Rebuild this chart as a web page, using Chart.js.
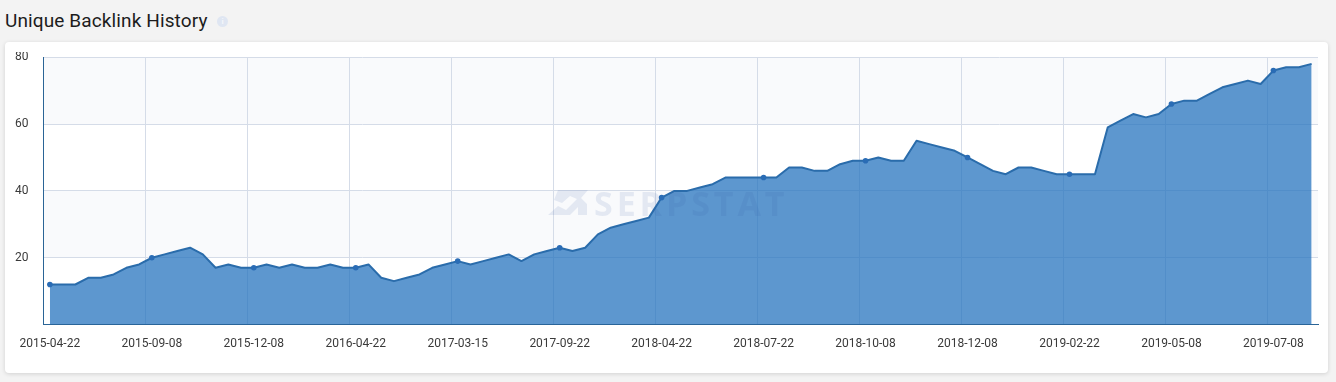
<!DOCTYPE html>
<html><head><meta charset="utf-8">
<style>
html,body{margin:0;padding:0;width:1336px;height:382px;background:#f3f3f3;overflow:hidden;font-family:Roboto,sans-serif}
#title{position:absolute;left:5px;top:10px;font-size:19px;letter-spacing:.12px;line-height:22px;color:#1c1c1c}
#info{position:absolute;left:217px;top:16px;width:11px;height:11px;border-radius:50%;background:#dfe6f2;color:#f4f6fa;font:bold 8px/11px Roboto;text-align:center}
#card{position:absolute;left:5px;top:42px;width:1323px;height:331px;background:#fff;border-radius:4px;box-shadow:0 1px 4px rgba(0,0,0,.14)}
#clip{position:absolute;left:0;top:52px;width:1336px;height:321px;overflow:hidden}
#wrap{position:absolute;left:0;top:-17px;width:1330px;height:329px}
#mark{position:absolute;left:548px;top:185px;width:245px;height:36px;pointer-events:none}
#mark span{position:absolute;left:46px;top:0;font:bold 34px/36px "Open Sans",sans-serif;letter-spacing:3.9px;color:rgba(55,95,165,.11)}
#mark svg{position:absolute;left:0;top:4px}
</style></head><body>
<div id="title">Unique Backlink History</div><div id="info">i</div>
<div id="card"></div>
<div id="clip"><div id="wrap"><canvas id="c"></canvas></div></div>
<div id="mark"><svg width="42" height="28" viewBox="0 0 42 28"><path d="M10 1H40L33 9 39 15V26H30V18L22 26H0L10 17 18 21 29 10 22 7 14 14 6 11Z" fill="rgba(55,95,165,.11)"/></svg><span>SERPSTAT</span></div>
<script src="https://cdn.jsdelivr.net/npm/chart.js@4"></script>
<script>
const tickDates=['2015-04-22','2015-09-08','2015-12-08','2016-04-22','2017-03-15','2017-09-22','2018-04-22','2018-07-22','2018-10-08','2018-12-08','2019-02-22','2019-05-08','2019-07-08'];
const backlinks=[12,12,12,14,14,15,17,18,20,21,22,23,21,17,18,17,17,18,17,18,17,17,18,17,17,18,14,13,14,15,17,18,19,18,19,20,21,19,21,22,23,22,23,27,29,30,31,32,38,40,40,41,42,44,44,44,44,44,47,47,46,46,48,49,49,50,49,49,55,54,53,52,50,48,46,45,47,47,46,45,45,45,45,59,61,63,62,63,66,67,67,69,71,72,73,72,76,77,77,78];
const yTicks=[0,20,40,60,80];
const every=8;
const categories=backlinks.map((v,i)=>i%every===0?tickDates[i/every]:'');
const bands={id:'bands',beforeDraw(ch){
  const {ctx,chartArea:a,scales:{y}}=ch;ctx.save();ctx.fillStyle='#f9fafc';
  [[20,40],[60,80]].forEach(([lo,hi])=>{ctx.fillRect(a.left,y.getPixelForValue(hi),a.width,y.getPixelForValue(lo)-y.getPixelForValue(hi));});
  ctx.restore();}};
new Chart(document.getElementById('c'),{
  type:'line',
  data:{labels:categories,datasets:[{data:backlinks,borderColor:'#2a6cab',borderWidth:2,backgroundColor:'rgba(36,115,190,.74)',fill:'origin',tension:0,
    pointRadius:c=>c.dataIndex%every===0?2.8:0,pointBackgroundColor:'#2a6cb5',pointBorderWidth:0,borderJoinStyle:'round'}]},
  options:{responsive:true,maintainAspectRatio:false,animation:false,
    layout:{padding:{left:0,right:12,top:0,bottom:0}},
    plugins:{legend:{display:false},tooltip:{enabled:false}},
    scales:{
      x:{type:'category',offset:true,
        grid:{offset:true,color:c=>c.index%every===0?'#d5dce8':'rgba(0,0,0,0)',drawTicks:false,lineWidth:1},
        border:{color:'#2a6496',width:1},
        ticks:{autoSkip:false,maxRotation:0,minRotation:0,padding:12.5,color:'#3a3a3a',font:{family:'Roboto',size:12},callback(v,i){return categories[i];}}},
      y:{min:0,max:80,afterBuildTicks(s){s.ticks=yTicks.map(v=>({value:v}));},
        afterFit(s){s.width=43.5;},
        grid:{color:'#d5dce8',drawTicks:false},
        border:{color:'#2a6496',width:1},
        ticks:{padding:15,color:'#3a3a3a',font:{family:'Roboto',size:12},callback:v=>v===0?'':v}}
    }},
  plugins:[bands]
});
</script></body></html>
